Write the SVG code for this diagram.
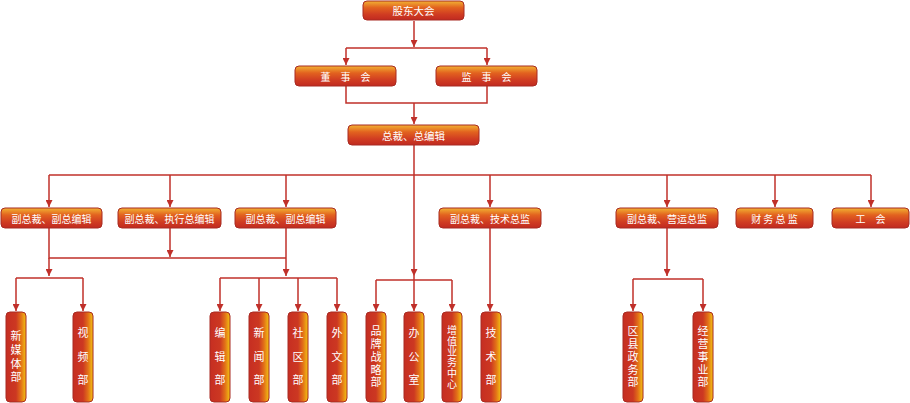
<svg xmlns="http://www.w3.org/2000/svg" width="910" height="403" viewBox="0 0 910 403">
<defs>
<linearGradient id="hg" x1="0" y1="0" x2="0" y2="1">
<stop offset="0" stop-color="#f2b233"/>
<stop offset="0.35" stop-color="#e2621f"/>
<stop offset="0.7" stop-color="#d03c22"/>
<stop offset="1" stop-color="#c02a20"/>
</linearGradient>
<linearGradient id="vg" x1="0" y1="0" x2="1" y2="0">
<stop offset="0" stop-color="#c62e22"/>
<stop offset="0.5" stop-color="#cc3822"/>
<stop offset="0.75" stop-color="#e27018"/>
<stop offset="1" stop-color="#f2c412"/>
</linearGradient>
<marker id="ar" viewBox="0 0 8 8" refX="8" refY="4" markerWidth="7" markerHeight="7" markerUnits="userSpaceOnUse" orient="auto">
<path d="M0,0 L8,4 L0,8 z" fill="#c0302a"/>
</marker>
<style>
.h{fill:url(#hg);stroke:#a82a22;stroke-width:1}
.v{fill:url(#vg);stroke:#a82a22;stroke-width:1}
.t{font-family:"Noto Sans CJK SC","Noto Sans",sans-serif;font-size:10.5px;fill:#ffffff;text-anchor:middle;dominant-baseline:central}
.s{font-size:10px}
.vt{font-family:"Noto Sans CJK SC","Noto Sans",sans-serif;font-size:11px;fill:#ffffff;text-anchor:middle;writing-mode:vertical-rl;dominant-baseline:central}
.v3{letter-spacing:12.5px}
.v4{letter-spacing:2.7px}
.v5{letter-spacing:1.75px}
.v6{font-size:10px;letter-spacing:0.8px}
.c{fill:none;stroke:#c0302a;stroke-width:1.5}
.a{marker-end:url(#ar)}
</style>
</defs>
<g id="connectors">
<path class="c a" d="M414,21 V47"/>
<path class="c" d="M346,48 H487"/>
<path class="c a" d="M346,48 V65"/>
<path class="c a" d="M487,48 V65"/>
<path class="c" d="M346,86 V103 H487 V86"/>
<path class="c a" d="M414,103 V124"/>
<path class="c" d="M414,145 V175"/>
<path class="c" d="M49,175 H871"/>
<path class="c a" d="M49,175 V207"/>
<path class="c a" d="M170,175 V207"/>
<path class="c a" d="M286,175 V207"/>
<path class="c a" d="M490,175 V207"/>
<path class="c a" d="M667,175 V207"/>
<path class="c a" d="M775,175 V207"/>
<path class="c a" d="M871,175 V207"/>
<path class="c a" d="M414,175 V276"/>
<path class="c" d="M376,280 H452"/>
<path class="c a" d="M376,280 V311"/>
<path class="c a" d="M414,276 V311"/>
<path class="c a" d="M452,280 V311"/>
<path class="c" d="M49,228 V258 H286"/>
<path class="c a" d="M170,228 V257"/>
<path class="c a" d="M49,258 V276"/>
<path class="c a" d="M286,228 V276"/>
<path class="c" d="M16,278 H83"/>
<path class="c a" d="M16,278 V311"/>
<path class="c a" d="M83,278 V311"/>
<path class="c" d="M220,278 H337"/>
<path class="c a" d="M220,278 V311"/>
<path class="c a" d="M259,278 V311"/>
<path class="c a" d="M298,278 V311"/>
<path class="c a" d="M337,278 V311"/>
<path class="c a" d="M490,228 V311"/>
<path class="c a" d="M667,228 V276"/>
<path class="c" d="M633,279 H703"/>
<path class="c a" d="M633,279 V311"/>
<path class="c a" d="M703,279 V311"/>
</g>
<g id="n-gudong"><rect class="h" x="363" y="1" width="101" height="19" rx="4"/><text class="t" x="413.5" y="10.5">股东大会</text></g>
<g id="n-dongshi"><rect class="h" x="295" y="66" width="101" height="20" rx="4"/><text class="t s" x="345.5" y="76">董　事　会</text></g>
<g id="n-jianshi"><rect class="h" x="436" y="66" width="101" height="20" rx="4"/><text class="t s" x="486.5" y="76">监　事　会</text></g>
<g id="n-zongcai"><rect class="h" x="348" y="125" width="131" height="20" rx="4"/><text class="t" x="413.5" y="135">总裁、总编辑</text></g>
<g id="n-fu1"><rect class="h" x="1" y="208" width="101" height="20" rx="4"/><text class="t s" x="51.5" y="218">副总裁、副总编辑</text></g>
<g id="n-fu2"><rect class="h" x="118" y="208" width="103" height="20" rx="4"/><text class="t s" x="169.5" y="218">副总裁、执行总编辑</text></g>
<g id="n-fu3"><rect class="h" x="235" y="208" width="101" height="20" rx="4"/><text class="t s" x="285.5" y="218">副总裁、副总编辑</text></g>
<g id="n-fu4"><rect class="h" x="439" y="208" width="102" height="20" rx="4"/><text class="t s" x="490" y="218">副总裁、技术总监</text></g>
<g id="n-fu5"><rect class="h" x="616" y="208" width="102" height="20" rx="4"/><text class="t s" x="667" y="218">副总裁、营运总监</text></g>
<g id="n-caiwu"><rect class="h" x="736" y="208" width="77" height="20" rx="4"/><text class="t s" x="774.5" y="218">财 务 总 监</text></g>
<g id="n-gonghui"><rect class="h" x="832" y="208" width="77" height="20" rx="4"/><text class="t s" x="870.5" y="218">工　会</text></g>
<g id="n-xinmeiti"><rect class="v" x="6" y="312" width="20" height="90" rx="4"/><text class="vt v4" x="16" y="358">新媒体部</text></g>
<g id="n-shipin"><rect class="v" x="73" y="312" width="20" height="90" rx="4"/><text class="vt v3" x="83" y="363">视频部</text></g>
<g id="n-bianji"><rect class="v" x="210" y="312" width="20" height="90" rx="4"/><text class="vt v3" x="220" y="363">编辑部</text></g>
<g id="n-xinwen"><rect class="v" x="249" y="312" width="20" height="90" rx="4"/><text class="vt v3" x="259" y="363">新闻部</text></g>
<g id="n-shequ"><rect class="v" x="288" y="312" width="20" height="90" rx="4"/><text class="vt v3" x="298" y="363">社区部</text></g>
<g id="n-waiwen"><rect class="v" x="327" y="312" width="20" height="90" rx="4"/><text class="vt v3" x="337" y="363">外文部</text></g>
<g id="n-pinpai"><rect class="v" x="366" y="312" width="20" height="90" rx="4"/><text class="vt v5" x="376" y="357.5">品牌战略部</text></g>
<g id="n-bangong"><rect class="v" x="404" y="312" width="20" height="90" rx="4"/><text class="vt v3" x="414" y="363">办公室</text></g>
<g id="n-zengzhi"><rect class="v" x="442" y="312" width="20" height="90" rx="4"/><text class="vt v6" x="452" y="357.5">增值业务中心</text></g>
<g id="n-jishu"><rect class="v" x="481" y="312" width="20" height="90" rx="4"/><text class="vt v3" x="491" y="363">技术部</text></g>
<g id="n-quxian"><rect class="v" x="623" y="312" width="20" height="90" rx="4"/><text class="vt v5" x="633" y="357.5">区县政务部</text></g>
<g id="n-jingying"><rect class="v" x="693" y="312" width="20" height="90" rx="4"/><text class="vt v5" x="703" y="357.5">经营事业部</text></g>
</svg>
